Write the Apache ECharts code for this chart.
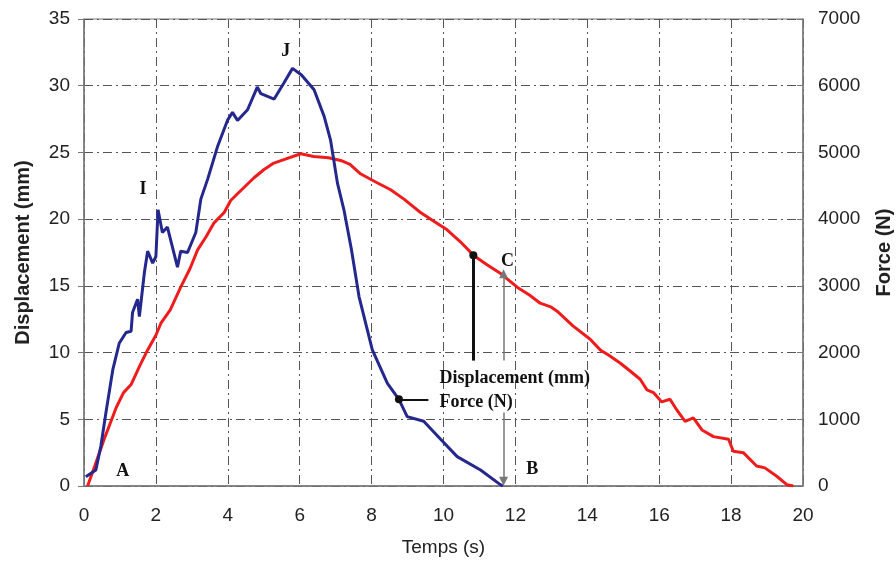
<!DOCTYPE html>
<html><head><meta charset="utf-8">
<script src="https://cdn.jsdelivr.net/npm/echarts@6/dist/echarts.min.js"></script>
<style>html,body{margin:0;padding:0;background:#fff}#c{width:896px;height:565px}</style>
</head><body><div id="c"></div>
<script>
// Displacement (mm) - red curve, left axis
const dispTime = [0.1,0.3,0.56,0.9,1.1,1.31,1.55,1.77,2.0,2.14,2.4,2.69,2.95,3.16,3.4,3.61,3.9,4.08,4.27,4.5,4.73,5.0,5.28,5.6,6.03,6.39,6.8,7.14,7.4,7.69,8.1,8.53,8.9,9.36,9.7,10.1,10.47,10.83,11.2,11.6,12.05,12.4,12.69,13.0,13.16,13.6,14.08,14.36,14.6,14.92,15.2,15.47,15.66,15.84,16.07,16.3,16.49,16.72,16.95,17.19,17.51,17.93,18.06,18.34,18.71,18.94,19.27,19.55,19.73];
const dispMM = [0,1.5,3.5,5.9,7.0,7.6,9.0,10.2,11.3,12.2,13.2,14.9,16.3,17.7,18.7,19.7,20.5,21.4,21.9,22.5,23.1,23.7,24.2,24.5,24.9,24.7,24.6,24.4,24.1,23.4,22.8,22.2,21.5,20.5,19.9,19.2,18.3,17.3,16.6,15.9,14.9,14.3,13.7,13.4,13.1,12.0,11.0,10.2,9.8,9.2,8.6,8.0,7.2,7.0,6.3,6.5,5.7,4.85,5.1,4.2,3.7,3.5,2.6,2.5,1.5,1.36,0.73,0.1,0];
// Force (N) - blue curve, right axis
const forceTime = [0.05,0.33,0.47,0.61,0.8,0.98,1.17,1.31,1.35,1.49,1.54,1.68,1.77,1.91,2.0,2.06,2.18,2.32,2.46,2.6,2.69,2.88,3.11,3.25,3.44,3.71,3.99,4.13,4.27,4.55,4.82,4.92,5.29,5.56,5.8,6.05,6.4,6.68,6.86,7.05,7.23,7.44,7.65,8.02,8.44,8.76,8.99,9.45,9.92,10.38,11.03,11.58,11.65];
const forceN = [140,240,600,1100,1740,2140,2300,2320,2600,2800,2540,3200,3520,3340,3440,4140,3800,3880,3580,3280,3520,3500,3800,4300,4600,5080,5480,5600,5480,5640,5980,5880,5800,6040,6260,6160,5940,5540,5180,4540,4140,3540,2840,2040,1540,1300,1040,970,700,440,240,20,0];
// Point letters [time, mm]
const letterNames = ['A','I','J','C','B'];
const letterPos = [[1.08,1.1],[1.64,22.2],[5.61,32.6],[11.78,16.8],[12.47,1.25]];
// Annotation texts (left edge time, mm)
const noteTexts = ['Displacement (mm)','Force (N)'];
const notePos = [[9.89,8.1],[9.89,6.3]];
// Annotation lines [from],[to]
const thickLine = [[10.83,17.3],[10.83,9.4]];
const upArrow = [[11.67,9.4],[11.67,15.9]];
const downArrow = [[11.67,5.5],[11.67,0.35]];
const forcePointer = [[8.76,6.5],[9.58,6.5]];
const dots = [[10.83,17.3],[8.76,6.5]];

const xTicks = {min:0,max:20,interval:2};
const yLeft = {min:0,max:35,interval:5};
const yRight = {min:0,max:7000,interval:1000};

const gridLine = {color:'#555',width:1,type:[9,4,2,4]};
const axisLabelStyle = {color:'#222',fontFamily:'Liberation Sans',fontSize:19,formatter:v=>String(v)};
const zip = (a,b)=>a.map((v,i)=>[v,b[i]]);

const chart = echarts.init(document.getElementById('c'));
chart.setOption({
  animation:false,
  backgroundColor:'#fff',
  grid:{left:84,right:93,top:19,bottom:79,show:true,borderColor:'#777',borderWidth:1,containLabel:false,outerBoundsMode:'none'},
  xAxis:{type:'value',min:xTicks.min,max:xTicks.max,interval:xTicks.interval,
    name:'Temps (s)',nameLocation:'middle',nameGap:52,
    nameTextStyle:{color:'#222',fontFamily:'Liberation Sans',fontSize:19},
    axisLine:{show:true,lineStyle:{color:'#777',width:1.5}},
    axisTick:{show:false},
    axisLabel:Object.assign({margin:20},axisLabelStyle),
    splitLine:{show:true,lineStyle:gridLine}},
  yAxis:[
    {type:'value',position:'left',min:yLeft.min,max:yLeft.max,interval:yLeft.interval,
     name:'Displacement (mm)',nameLocation:'middle',nameGap:51,nameRotate:90,
     nameTextStyle:{color:'#222',fontFamily:'Liberation Sans',fontSize:20,fontWeight:'bold'},
     axisLine:{show:true,lineStyle:{color:'#777',width:1.5}},
     axisTick:{show:true,length:6,lineStyle:{color:'#777'}},
     axisLabel:Object.assign({margin:14},axisLabelStyle),
     splitLine:{show:true,lineStyle:gridLine}},
    {type:'value',position:'right',min:yRight.min,max:yRight.max,interval:yRight.interval,
     name:'Force (N)',nameLocation:'middle',nameGap:71,nameRotate:90,
     nameTextStyle:{color:'#222',fontFamily:'Liberation Sans',fontSize:20,fontWeight:'bold'},
     axisLine:{show:true,lineStyle:{color:'#777',width:1.5}},
     axisTick:{show:true,inside:true,length:6,lineStyle:{color:'#777'}},
     axisLabel:Object.assign({margin:15},axisLabelStyle),
     splitLine:{show:false}}
  ],
  series:[
    {type:'line',name:'Displacement',yAxisIndex:0,data:zip(dispTime,dispMM),showSymbol:false,
     lineStyle:{color:'#ee1c1c',width:3},z:3},
    {type:'line',name:'Force',yAxisIndex:1,data:zip(forceTime,forceN),showSymbol:false,
     lineStyle:{color:'#24288c',width:3},z:3},
    {type:'line',yAxisIndex:0,data:[],silent:true,
     markLine:{silent:true,animation:false,label:{show:false},
       data:[
         [{coord:thickLine[0],symbol:'none',lineStyle:{color:'#111',width:3,type:'solid'}},{coord:thickLine[1],symbol:'none'}],
         [{coord:upArrow[0],symbol:'none',lineStyle:{color:'#777',width:1.5,type:'solid'}},{coord:upArrow[1],symbol:'triangle',symbolSize:[9,9],itemStyle:{color:'#111'}}],
         [{coord:downArrow[0],symbol:'none',lineStyle:{color:'#777',width:1.5,type:'solid'}},{coord:downArrow[1],symbol:'triangle',symbolSize:[9,9],itemStyle:{color:'#111'}}],
         [{coord:forcePointer[0],symbol:'none',lineStyle:{color:'#111',width:2,type:'solid'}},{coord:forcePointer[1],symbol:'none'}]
       ],
       lineStyle:{color:'#111'}},z:4},
    {type:'scatter',yAxisIndex:0,data:dots,symbol:'circle',symbolSize:8,itemStyle:{color:'#111',opacity:1},z:5},
    {type:'scatter',yAxisIndex:0,symbolSize:0,itemStyle:{color:'#fff',opacity:1},
     data:letterNames.map((n,i)=>({name:n,value:letterPos[i]})),
     label:{show:true,position:'inside',formatter:'{b}',color:'#111',opacity:1,fontFamily:'Liberation Serif',fontWeight:'bold',fontSize:18},z:6},
    {type:'scatter',yAxisIndex:0,symbolSize:0,itemStyle:{color:'#fff',opacity:1},
     data:noteTexts.map((n,i)=>({name:n,value:notePos[i]})),
     label:{show:true,position:'inside',align:'left',formatter:'{b}',color:'#111',opacity:1,fontFamily:'Liberation Serif',fontWeight:'bold',fontSize:18},z:6}
  ]
});
</script></body></html>
